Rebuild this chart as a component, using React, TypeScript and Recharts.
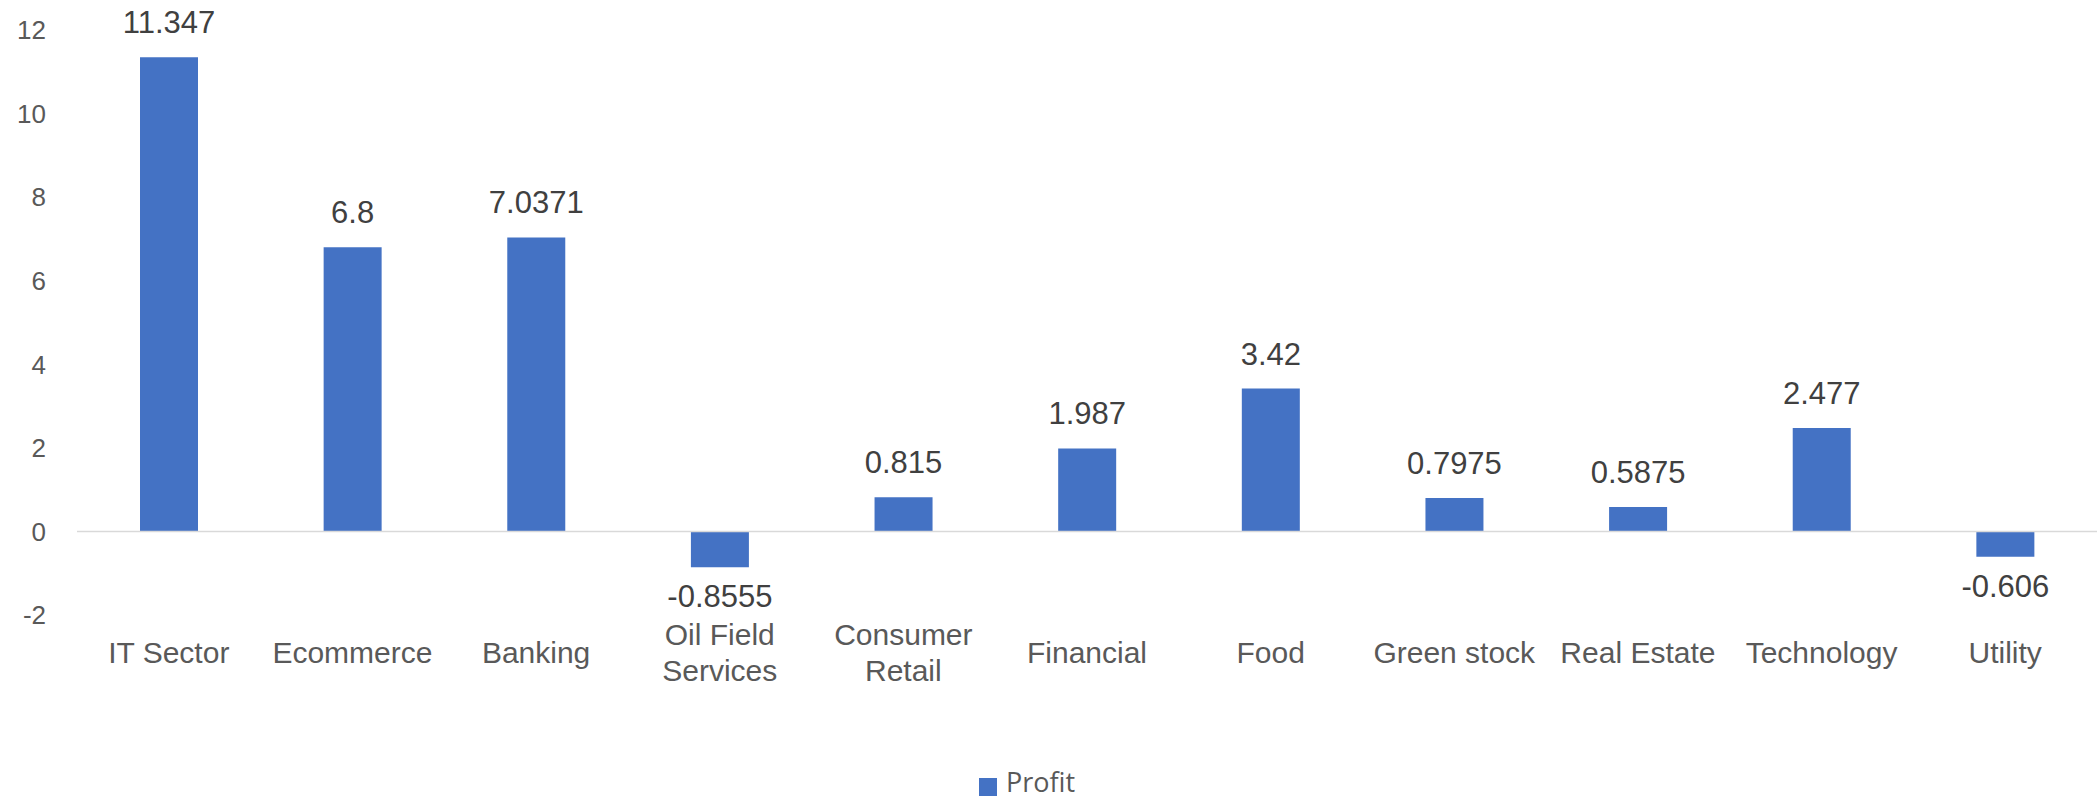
import { BarChart, Bar, XAxis, YAxis, Legend, LabelList, ReferenceLine } from "recharts";

const sectors = [
  "IT Sector",
  "Ecommerce",
  "Banking",
  "Oil Field Services",
  "Consumer Retail",
  "Financial",
  "Food",
  "Green stock",
  "Real Estate",
  "Technology",
  "Utility",
];
const profit = [11.347, 6.8, 7.0371, -0.8555, 0.815, 1.987, 3.42, 0.7975, 0.5875, 2.477, -0.606];
const yTicks = [-2, 0, 2, 4, 6, 8, 10, 12];

const data = sectors.map((name, i) => ({ name, profit: profit[i] }));

const FONT = "'Liberation Sans', Arial, sans-serif";
const BLUE = "#4472C4";

let ctx: CanvasRenderingContext2D | null = null;
function textWidth(s: string, size: number) {
  if (!ctx) ctx = document.createElement("canvas").getContext("2d");
  if (!ctx) return s.length * size * 0.5;
  ctx.font = `${size}px 'Liberation Sans'`;
  return ctx.measureText(s).width;
}

// break a category name into lines that fit the band
function wrap(label: string, size: number, max: number) {
  const words = label.split(" ");
  const lines: string[] = [];
  let cur = "";
  for (const w of words) {
    const next = cur ? cur + " " + w : w;
    if (cur && textWidth(next, size) > max) {
      lines.push(cur);
      cur = w;
    } else cur = next;
  }
  if (cur) lines.push(cur);
  return lines;
}

function CategoryTick({ x, y, payload }: any) {
  const size = 30;
  const lines = wrap(String(payload.value), size, 180);
  const lh = 36;
  return (
    <g>
      {lines.map((ln, i) => (
        <text
          key={i}
          x={x}
          y={y + 37 + (i - (lines.length - 1) / 2) * lh + 10.7}
          textAnchor="middle"
          fill="#595959"
          fontSize={size}
          fontFamily={FONT}
        >
          {ln}
        </text>
      ))}
    </g>
  );
}

function ValueLabel({ x, y, width, height, value }: any) {
  const top = Math.min(y, y + height);
  const bottom = Math.max(y, y + height);
  const ty = value >= 0 ? top - 24 : bottom + 40;
  return (
    <text x={x + width / 2} y={ty} textAnchor="middle" fill="#404040" fontSize={31} fontFamily={FONT}>
      {value}
    </text>
  );
}

function LegendContent() {
  return (
    <div style={{ display: "flex", alignItems: "center", height: 30 }}>
      <span
        style={{
          width: 18,
          height: 18,
          background: BLUE,
          display: "inline-block",
          marginRight: 9,
          position: "relative",
          top: 8,
        }}
      />
      <span
        style={{
          fontFamily: "'Open Sans', sans-serif",
          fontSize: 27,
          color: "#595959",
          lineHeight: "30px",
          position: "relative",
          top: 3,
        }}
      >
        Profit
      </span>
    </div>
  );
}

export default function App() {
  return (
    <div style={{ position: "absolute", left: 0, top: 0, background: "#fff" }}>
      <BarChart width={2098} height={798} data={data} margin={{ top: 30, right: 1, left: 0, bottom: 33 }}>
        <YAxis
          domain={[-2, 12]}
          ticks={yTicks}
          width={77}
          axisLine={false}
          tickLine={false}
          tickSize={0}
          tickMargin={31}
          tick={{ fill: "#595959", fontSize: 26, fontFamily: FONT }}
        />
        <XAxis
          dataKey="name"
          height={120}
          axisLine={false}
          tickLine={false}
          tickSize={0}
          tickMargin={0}
          interval={0}
          tick={<CategoryTick />}
        />
        <ReferenceLine y={0} stroke="#D9D9D9" strokeWidth={1.5} />
        <Legend
          verticalAlign="bottom"
          height={30}
          content={<LegendContent />}
          wrapperStyle={{ left: 979, top: 764, width: "auto", height: 30 }}
        />
        <Bar dataKey="profit" name="Profit" fill={BLUE} barSize={58} isAnimationActive={false}>
          <LabelList dataKey="profit" content={<ValueLabel />} />
        </Bar>
      </BarChart>
    </div>
  );
}
